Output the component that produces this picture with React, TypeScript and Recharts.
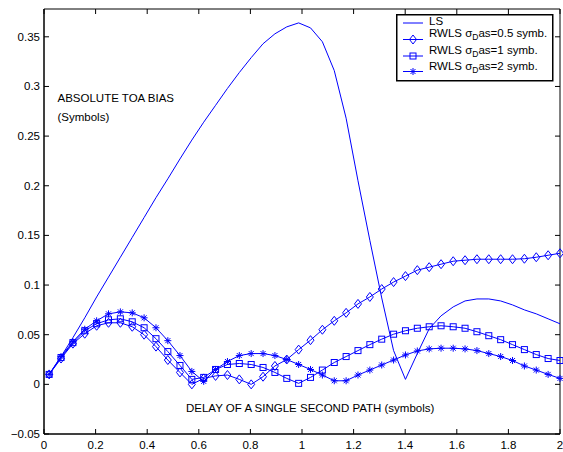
import { Legend, Line, LineChart, ReferenceArea, XAxis, YAxis } from "recharts";

const FONT = "'Liberation Sans', Arial, Helvetica, sans-serif";
const BLUE = "#0000ff";

// delay of the second path (symbols)
const X = [
  0.02, 0.066, 0.112, 0.158, 0.204, 0.25, 0.296, 0.342, 0.388, 0.434, 0.48,
  0.527, 0.573, 0.619, 0.665, 0.711, 0.757, 0.803, 0.849, 0.895, 0.941, 0.987,
  1.033, 1.079, 1.125, 1.171, 1.217, 1.263, 1.309, 1.355, 1.401, 1.447, 1.493,
  1.539, 1.586, 1.632, 1.678, 1.724, 1.77, 1.816, 1.862, 1.908, 1.954, 2.0,
];

const LS = [
  0.01, 0.028, 0.047, 0.067, 0.088, 0.108, 0.128, 0.148, 0.168, 0.188, 0.207,
  0.227, 0.246, 0.264, 0.281, 0.298, 0.314, 0.329, 0.343, 0.353, 0.36, 0.364,
  0.359, 0.345, 0.316, 0.268, 0.205, 0.145, 0.087, 0.034, 0.005, 0.031, 0.056,
  0.069, 0.078, 0.084, 0.086, 0.086, 0.084, 0.08, 0.075, 0.071, 0.066, 0.061,
];

const RWLS_05 = [
  0.01, 0.026, 0.041, 0.051, 0.059, 0.062, 0.062, 0.058, 0.05, 0.038, 0.0245,
  0.012, 0.0, 0.006, 0.0085, 0.0094, 0.005, 0.0, 0.0077, 0.0185, 0.025, 0.035,
  0.0445, 0.055, 0.064, 0.072, 0.081, 0.088, 0.096, 0.103, 0.109, 0.115, 0.118,
  0.121, 0.124, 0.125, 0.126, 0.126, 0.126, 0.126, 0.1265, 0.128, 0.13, 0.132,
];

const RWLS_1 = [
  0.01, 0.027, 0.042, 0.054, 0.061, 0.065, 0.066, 0.063, 0.057, 0.046, 0.033,
  0.019, 0.005, 0.007, 0.015, 0.02, 0.021, 0.02, 0.017, 0.012, 0.006, 0.001,
  0.007, 0.0144, 0.022, 0.028, 0.034, 0.04, 0.0455, 0.0505, 0.054, 0.0565, 0.058,
  0.059, 0.058, 0.0565, 0.053, 0.049, 0.045, 0.04, 0.035, 0.03, 0.026, 0.024,
];

const RWLS_2 = [
  0.01, 0.028, 0.043, 0.0555, 0.064, 0.071, 0.073, 0.072, 0.067, 0.057, 0.044,
  0.029, 0.013, 0.003, 0.015, 0.023, 0.029, 0.031, 0.031, 0.029, 0.025, 0.02,
  0.015, 0.0094, 0.0036, 0.0036, 0.0094, 0.0144, 0.0195, 0.0245, 0.0296, 0.0336,
  0.0357, 0.0364, 0.0364, 0.0357, 0.034, 0.031, 0.028, 0.024, 0.0185, 0.0144,
  0.01, 0.006,
];

const X_TICKS = [0, 0.2, 0.4, 0.6, 0.8, 1, 1.2, 1.4, 1.6, 1.8, 2];
const Y_TICKS = [-0.05, 0, 0.05, 0.1, 0.15, 0.2, 0.25, 0.3, 0.35];
const X_DOMAIN = [0, 2];
const Y_DOMAIN = [-0.05, 0.378];

// plot box in pixels (from the chart margins below), used for the inward tick marks
const BOX = { left: 44, right: 560, top: 9, bottom: 434 };
const TICK_LEN = 5;

const data = X.map((x, i) => ({
  x,
  ls: LS[i],
  d05: RWLS_05[i],
  d1: RWLS_1[i],
  d2: RWLS_2[i],
}));

function Diamond({ cx, cy }: { cx: number; cy: number }) {
  return (
    <path
      d={`M${cx},${cy - 4.5}L${cx + 3.5},${cy}L${cx},${cy + 4.5}L${cx - 3.5},${cy}Z`}
      fill="none"
      stroke={BLUE}
      strokeWidth={1}
    />
  );
}

function Square({ cx, cy }: { cx: number; cy: number }) {
  return <rect x={cx - 3} y={cy - 3} width={6} height={6} fill="none" stroke={BLUE} strokeWidth={1} />;
}

function Star({ cx, cy }: { cx: number; cy: number }) {
  const r = 3.5;
  const d = 2.5;
  return (
    <path
      d={`M${cx - r},${cy}H${cx + r}M${cx},${cy - r}V${cy + r}M${cx - d},${cy - d}L${cx + d},${cy + d}M${cx - d},${cy + d}L${cx + d},${cy - d}`}
      stroke={BLUE}
      strokeWidth={1}
      fill="none"
    />
  );
}

const dotOf = (Shape: typeof Diamond) => (p: any) =>
  <Shape key={`d${p.index}`} cx={p.cx} cy={p.cy} />;

const fmtY = (v: number) => (v < 0 ? `\u2212${String(-v)}` : String(v));

function XTick(p: any) {
  const x = p.x;
  return (
    <g>
      <line x1={x} x2={x} y1={BOX.bottom} y2={BOX.bottom - TICK_LEN} stroke="#000" />
      <line x1={x} x2={x} y1={BOX.top} y2={BOX.top + TICK_LEN} stroke="#000" />
      <text x={x} y={BOX.bottom + 15} textAnchor="middle" fontSize={11.5} fontFamily={FONT} fill="#000">
        {String(p.payload.value)}
      </text>
    </g>
  );
}

function YTick(p: any) {
  const y = p.y;
  return (
    <g>
      <line x1={BOX.left} x2={BOX.left + TICK_LEN} y1={y} y2={y} stroke="#000" />
      <line x1={BOX.right} x2={BOX.right - TICK_LEN} y1={y} y2={y} stroke="#000" />
      <text x={BOX.left - 4} y={y + 4} textAnchor="end" fontSize={11.5} fontFamily={FONT} fill="#000">
        {fmtY(p.payload.value)}
      </text>
    </g>
  );
}

function LegendBox() {
  const rows = [
    { y: 9, label: "LS", shape: null as null | typeof Diamond, base: 11 },
    { y: 25.5, label: "0.5", shape: Diamond, base: 23 },
    { y: 42, label: "1", shape: Square, base: 39.5 },
    { y: 57.5, label: "2", shape: Star, base: 55.5 },
  ];
  return (
    <svg width={158} height={68} style={{ display: "block" }}>
      <rect x={0.75} y={0.75} width={156} height={66} fill="#fff" stroke="#000" strokeWidth={1.5} />
      {rows.map((r, i) => (
        <g key={i}>
          <line x1={7} x2={27} y1={r.y} y2={r.y} stroke={BLUE} strokeWidth={1} />
          {r.shape ? <r.shape cx={17} cy={r.y} /> : null}
          {i === 0 ? (
            <text x={33} y={r.base} fontSize={11.5} fontFamily={FONT} fill="#000">
              LS
            </text>
          ) : (
            <text x={33} y={r.base} fontSize={11.5} fontFamily={FONT} fill="#000">
              RWLS σ
              <tspan dy={3} fontSize={8.5}>
                D
              </tspan>
              <tspan dy={-3}>{`as=${r.label} symb.`}</tspan>
            </text>
          )}
        </g>
      ))}
    </svg>
  );
}

export default function App() {
  return (
    <div style={{ position: "absolute", left: 0, top: 0, width: 563, height: 452, background: "#fff" }}>
      <LineChart
        width={563}
        height={452}
        data={data}
        margin={{ top: 9, right: 3, bottom: 0, left: 0 }}
        style={{ fontFamily: FONT }}
      >
        <XAxis
          dataKey="x"
          type="number"
          domain={X_DOMAIN}
          ticks={X_TICKS}
          height={18}
          interval={0}
          tickLine={false}
          tick={XTick}
          axisLine={{ stroke: "#000" }}
        />
        <YAxis
          type="number"
          domain={Y_DOMAIN}
          ticks={Y_TICKS}
          width={44}
          interval={0}
          tickLine={false}
          tick={YTick}
          axisLine={{ stroke: "#000" }}
        />
        <ReferenceArea
          x1={X_DOMAIN[0]}
          x2={X_DOMAIN[1]}
          y1={Y_DOMAIN[0]}
          y2={Y_DOMAIN[1]}
          fill="none"
          fillOpacity={0}
          stroke="#000"
          strokeWidth={1}
          ifOverflow="visible"
        />
        <Line dataKey="ls" stroke={BLUE} strokeWidth={1} dot={false} isAnimationActive={false} />
        <Line dataKey="d05" stroke={BLUE} strokeWidth={1} dot={dotOf(Diamond)} isAnimationActive={false} />
        <Line dataKey="d1" stroke={BLUE} strokeWidth={1} dot={dotOf(Square)} isAnimationActive={false} />
        <Line dataKey="d2" stroke={BLUE} strokeWidth={1} dot={dotOf(Star)} isAnimationActive={false} />
        <Legend
          layout="horizontal"
          verticalAlign="middle"
          align="center"
          wrapperStyle={{ left: 396, top: 14, width: 158, height: 68 }}
          content={() => <LegendBox />}
        />
      </LineChart>
      <svg
        width={563}
        height={452}
        style={{ position: "absolute", left: 0, top: 0, pointerEvents: "none" }}
      >
        <g fontFamily={FONT} fontSize={11.5} fill="#000">
          <text x={57.5} y={101.7}>ABSOLUTE TOA BIAS</text>
          <text x={57.5} y={120.5}>(Symbols)</text>
          <text x={186} y={412.3}>DELAY OF A SINGLE SECOND PATH (symbols)</text>
        </g>
      </svg>
    </div>
  );
}
